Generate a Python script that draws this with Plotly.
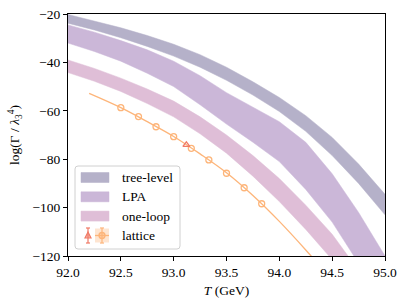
import plotly.graph_objects as go

# ---------------- data ----------------
T_grid = [92.0, 92.25, 92.5, 92.75, 93.0, 93.25, 93.5, 93.75, 94.0, 94.25, 94.5, 94.75, 95.0]

tree_upper = [-20.2, -22.8, -25.7, -28.9, -32.5, -36.8, -42.0, -48.0, -54.5, -62.0, -71.0, -82.0, -94.5]
tree_lower = [-23.8, -26.6, -29.8, -33.4, -37.4, -42.0, -47.4, -53.5, -60.3, -68.5, -78.5, -90.0, -103.0]

lpa_upper = [-24.5, -27.5, -31.0, -34.8, -39.5, -45.5, -52.5, -58.5, -64.5, -73.0, -86.0, -102.0, -120.0]
lpa_lower = [-32.0, -35.5, -39.5, -44.5, -50.0, -57.5, -65.5, -73.0, -81.0, -92.5, -106.0, -123.0, -142.0]

oneloop_upper = [-39.0, -42.5, -46.5, -51.0, -56.0, -62.5, -70.0, -78.5, -88.0, -99.0, -111.0, -126.0, -143.0]
oneloop_lower = [-44.2, -47.8, -52.0, -57.0, -62.5, -69.5, -77.5, -87.0, -97.5, -109.0, -121.5, -135.0, -150.0]

lattice_T = [92.5, 92.667, 92.833, 93.0, 93.167, 93.333, 93.5, 93.667, 93.833]
lattice_v = [-58.7, -62.4, -66.6, -70.7, -75.5, -80.3, -85.8, -91.8, -98.4]

fit_T = [92.2, 92.5, 92.75, 93.0, 93.25, 93.5, 93.75, 94.0, 94.25, 94.4]
fit_v = [-52.8, -58.7, -64.5, -70.6, -77.8, -85.6, -95.0, -105.7, -117.5, -125.0]

tri_T = [93.12]
tri_v = [-74.1]

x_ticks = [92.0, 92.5, 93.0, 93.5, 94.0, 94.5, 95.0]
y_ticks = [-120, -100, -80, -60, -40, -20]

legend_labels = ["tree-level", "LPA", "one-loop", "lattice"]

# ---------------- styles ----------------
C_TREE = "#b5b1c9"
C_LPA = "#cbb7d8"
C_ONE = "#dfbed7"
C_ORANGE = "#fdb57a"
C_RED = "#f07a66"
FONT = "Liberation Serif, Times New Roman, serif"
FS = 13.5

fig = go.Figure()


def band(upper, lower, color):
    fig.add_trace(go.Scatter(x=T_grid, y=lower, mode="lines",
                             line=dict(color=color, width=0.5),
                             showlegend=False, hoverinfo="skip"))
    fig.add_trace(go.Scatter(x=T_grid, y=upper, mode="lines",
                             line=dict(color=color, width=0.5),
                             fill="tonexty", fillcolor=color,
                             showlegend=False, hoverinfo="skip"))


band(tree_upper, tree_lower, C_TREE)
band(lpa_upper, lpa_lower, C_LPA)
band(oneloop_upper, oneloop_lower, C_ONE)

fig.add_trace(go.Scatter(x=fit_T, y=fit_v, mode="lines", line=dict(color=C_ORANGE, width=1.3, shape="spline"),
                         showlegend=False))
fig.add_trace(go.Scatter(x=lattice_T, y=lattice_v, mode="markers",
                         marker=dict(symbol="circle-open", size=6, color=C_ORANGE, line=dict(width=1.3)),
                         showlegend=False))
fig.add_trace(go.Scatter(x=tri_T, y=tri_v, mode="markers",
                         marker=dict(symbol="triangle-up-open", size=6, color=C_RED, line=dict(width=1.3)),
                         showlegend=False))

# ---------------- manual legend (page pixel -> paper coords) ----------------
L, R, TOP, BOT = 68.0, 385.0, 14.0, 256.0


def px(x):
    return (x - L) / (R - L)


def py(y):
    return (BOT - y) / (BOT - TOP)


def rrect(x0, y0, x1, y1, r=3):
    X0, X1 = px(x0), px(x1)
    Y0, Y1 = py(y1), py(y0)
    rx, ry = r / (R - L), r / (BOT - TOP)
    return (f"M{X0+rx},{Y0} L{X1-rx},{Y0} Q{X1},{Y0} {X1},{Y0+ry} L{X1},{Y1-ry} Q{X1},{Y1} {X1-rx},{Y1} "
            f"L{X0+rx},{Y1} Q{X0},{Y1} {X0},{Y1-ry} L{X0},{Y0+ry} Q{X0},{Y0} {X0+rx},{Y0} Z")


shapes = []
shapes.append(dict(type="path", xref="paper", yref="paper", path=rrect(75, 166, 180, 249),
                   fillcolor="rgba(255,255,255,0.85)", line=dict(color="#d0d0d0", width=1)))
row_c = [177.5, 196.8, 216.1, 235.5]
for yc, col in zip(row_c[:3], [C_TREE, C_LPA, C_ONE]):
    shapes.append(dict(type="rect", xref="paper", yref="paper",
                       x0=px(81), x1=px(109), y0=py(yc + 5), y1=py(yc - 5),
                       fillcolor=col, line=dict(color=col, width=0.5)))
yc = row_c[3]
shapes.append(dict(type="rect", xref="paper", yref="paper", x0=px(95), x1=px(109), y0=py(yc + 7), y1=py(yc - 7),
                   fillcolor="rgba(253,181,122,0.35)", line=dict(width=0)))
shapes.append(dict(type="line", xref="paper", yref="paper", x0=px(95), x1=px(109), y0=py(yc), y1=py(yc),
                   line=dict(color=C_ORANGE, width=1.3)))
shapes.append(dict(type="circle", xref="paper", yref="paper", x0=px(99), x1=px(105), y0=py(yc + 3), y1=py(yc - 3),
                   fillcolor="rgba(253,181,122,0.5)", line=dict(color=C_ORANGE, width=1.3)))
for xc, col in [(102, C_ORANGE), (88, C_RED)]:
    shapes.append(dict(type="line", xref="paper", yref="paper", x0=px(xc), x1=px(xc), y0=py(yc + 7.5), y1=py(yc - 7.5),
                       line=dict(color=col, width=1.2)))
    for yy in (yc - 7.5, yc + 7.5):
        shapes.append(dict(type="line", xref="paper", yref="paper", x0=px(xc - 2), x1=px(xc + 2), y0=py(yy), y1=py(yy),
                           line=dict(color=col, width=1.2)))
shapes.append(dict(type="path", xref="paper", yref="paper",
                   path=f"M{px(85)},{py(yc+2.5)} L{px(91)},{py(yc+2.5)} L{px(88)},{py(yc-3.5)} Z",
                   fillcolor="rgba(240,122,102,0.5)", line=dict(color=C_RED, width=1.2)))

annotations = []
for yc, lab in zip(row_c, legend_labels):
    annotations.append(dict(xref="paper", yref="paper", x=px(120), y=py(yc), text=lab, showarrow=False,
                            xanchor="left", yanchor="middle", font=dict(family=FONT, size=FS, color="black")))

fig.update_layout(
    width=407, height=305,
    margin=dict(l=68, r=22, t=14, b=49, autoexpand=False),
    plot_bgcolor="white", paper_bgcolor="white",
    font=dict(family=FONT, size=FS, color="black"),
    shapes=shapes, annotations=annotations,
    showlegend=False,
    xaxis=dict(range=[92, 95], tickvals=x_ticks, tickformat=".1f", ticks="outside", ticklen=4,
               tickcolor="black", showline=True, linecolor="black", linewidth=1, mirror=True,
               showgrid=False, zeroline=False, automargin=False,
               title=dict(text="<i>T</i> (GeV)", standoff=6, font=dict(family=FONT, size=FS))),
    yaxis=dict(range=[-120, -20], tickvals=y_ticks, ticks="outside", ticklen=4,
               tickcolor="black", showline=True, linecolor="black", linewidth=1, mirror=True,
               showgrid=False, zeroline=False, automargin=False, ticklabeloverflow="allow",
               title=dict(text="log(Γ / <i>λ</i><sub>3</sub><sup>4</sup>)", standoff=9,
                          font=dict(family=FONT, size=FS))),
)

# remove the default 8px page margin so the figure sits at the window's top-left corner
fig.write_html("out.html", config={"displayModeBar": False, "staticPlot": True},
               post_script="document.body.style.margin='0px';")
